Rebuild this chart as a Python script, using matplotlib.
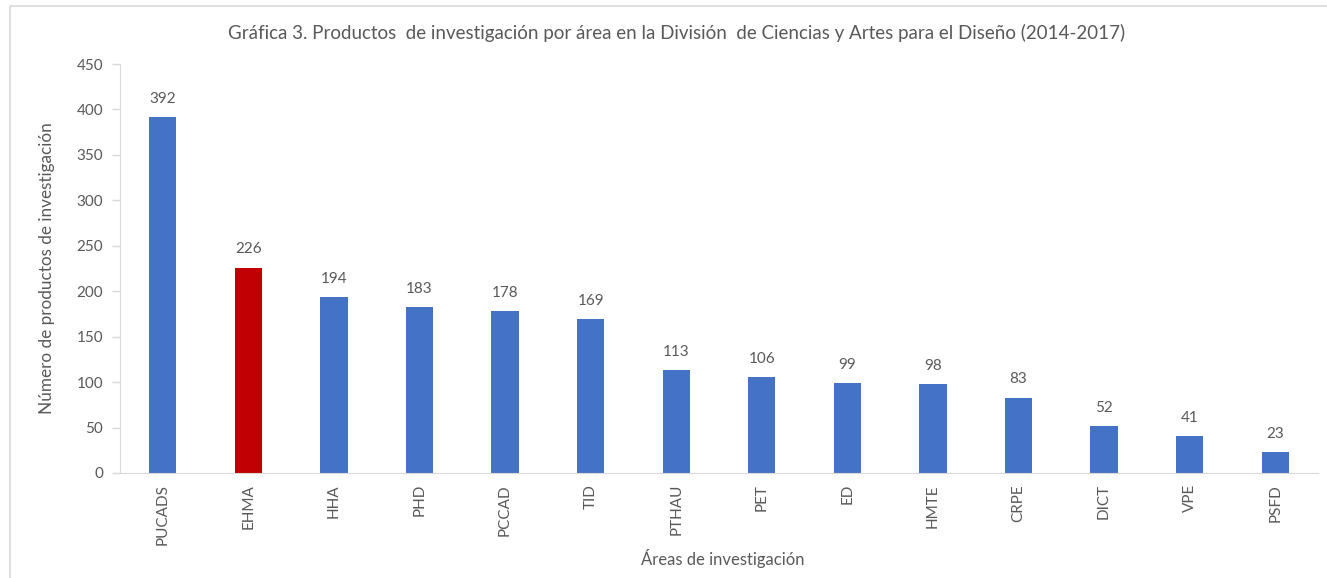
import matplotlib.pyplot as plt
from matplotlib.patches import Rectangle

# Data
areas = ['PUCADS', 'EHMA', 'HHA', 'PHD', 'PCCAD', 'TID', 'PTHAU', 'PET',
         'ED', 'HMTE', 'CRPE', 'DICT', 'VPE', 'PSFD']
productos = [392, 226, 194, 183, 178, 169, 113, 106, 99, 98, 83, 52, 41, 23]
resaltado = 'EHMA'

blue = '#4472C4'
red = '#C00000'
gray = '#595959'
light = '#D9D9D9'

plt.rcParams['font.family'] = ['Lato', 'DejaVu Sans']

W, H = 1327, 578
fig = plt.figure(figsize=(W / 100, H / 100), dpi=100)
ax = fig.add_axes([120 / W, 1 - 473 / H, (1318 - 120) / W, (473 - 64) / H])

# chart frame
fig.patches.append(Rectangle((10 / W, -0.1), 1.2, 1 - 6 / H + 0.1, transform=fig.transFigure,
                             fill=False, edgecolor=light, linewidth=1.2))

colors = [red if a == resaltado else blue for a in areas]
x = range(len(areas))
bars = ax.bar(x, productos, width=0.32, color=colors)

for xi, v in zip(x, productos):
    ax.annotate(str(v), (xi, v), xytext=(0, 8), textcoords='offset points',
                ha='center', va='bottom', fontsize=11, color=gray)

ax.set_xlim(-0.5, len(areas) - 0.5)
ax.set_ylim(0, 450)
ax.set_yticks(range(0, 451, 50))
ax.set_xticks(list(x))
ax.set_xticklabels(areas, rotation=90, fontsize=11, color=gray)
ax.tick_params(axis='y', labelsize=11, labelcolor=gray, color=light, length=6, width=1, pad=6)
ax.tick_params(axis='x', length=0, pad=8)

for s in ['top', 'right']:
    ax.spines[s].set_visible(False)
ax.spines['left'].set_color(light)
ax.spines['bottom'].set_color(light)

ax.set_ylabel('Número de productos de investigación', fontsize=12.3, color=gray)
ax.yaxis.set_label_coords(-65 / (1318 - 120), 0.5)
fig.text(723 / W, 1 - 558 / H, 'Áreas de investigación', ha='center', va='center',
         fontsize=12, color=gray)
fig.text(677 / W, 1 - 33 / H,
         'Gráfica 3. Productos  de investigación por área en la División  de Ciencias y Artes para el Diseño (2014-2017)',
         ha='center', va='center', fontsize=13.5, color=gray)

fig.savefig('out.png', dpi=100)
